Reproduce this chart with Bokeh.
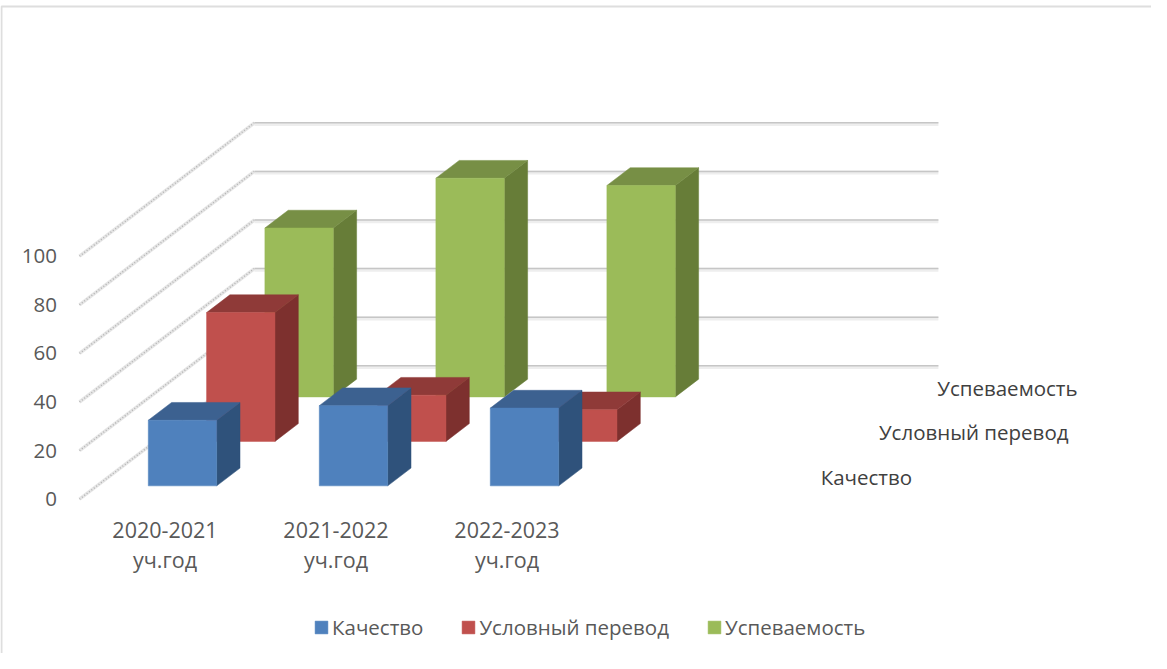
from bokeh.plotting import figure
from bokeh.embed import file_html
from bokeh.resources import INLINE
from bokeh.models import (Range1d, LinearAxis, FixedTicker, Legend, LegendItem)
from bokeh.core.properties import value

categories = ["2020-2021\nуч.год", "2021-2022\nуч.год", "2022-2023\nуч.год"]
series_names = ["Качество", "Условный перевод", "Успеваемость"]
kachestvo = [27, 33, 32]
uslovny = [53, 19, 13]
uspevaemost = [69.5, 90, 87]
series_values = [kachestvo, uslovny, uspevaemost]
value_ticks = [0, 20, 40, 60, 80, 100]
front_colors = ["#4f81bd", "#c0504d", "#9bbb59"]
top_colors = ["#3c6190", "#8f3a38", "#778f45"]
side_colors = ["#2f527b", "#7d302e", "#677d38"]

PX_SLOT = 171.0
PX_VAL = 2.43
DX = 58.3 / PX_SLOT
DY = 44.47 / PX_VAL
N_SLOTS = 4
N_DEPTH = 3
BAR_W = 0.4
BAR_D = 0.4
GAP = 0.3
FONT_PX = "20.5px"


def sx(px):
    return (px - 87) / PX_SLOT


def sy(py):
    return (506.7 - py) / PX_VAL


def proj(x, v, z):
    return x + z * DX, v + z * DY


p = figure(width=1151, height=653, output_backend="svg", toolbar_location=None,
           x_range=Range1d(sx(8), sx(1159)), y_range=Range1d(sy(661), sy(8)),
           min_border=0, min_border_left=0, min_border_right=0, min_border_top=0,
           min_border_bottom=0, x_axis_type=None, y_axis_type=None, outline_line_color=None)
p.xgrid.visible = False
p.ygrid.visible = False

# chart frame
p.line([sx(9), sx(9), sx(1162)], [sy(668), sy(14), sy(14)], line_color="#dedede", line_width=2)

# walls
for t in value_ticks:
    a = proj(0, t, 0)
    b = proj(0, t, N_DEPTH)
    c = proj(N_SLOTS, t, N_DEPTH)
    p.line([a[0], b[0]], [a[1], b[1]], line_color="#e6e6e6", line_width=3.5)
    p.line([a[0], b[0]], [a[1], b[1]], line_color="#b4b4b4", line_width=1.5, line_dash="1 2")
    p.line([b[0], c[0]], [b[1] - 0.5, c[1] - 0.5], line_color="#eeeeee", line_width=4)
    p.line([b[0], c[0]], [b[1], c[1]], line_color="#c6c6c6", line_width=1.5)

# bars, back to front
front_renderers = {}
for d in range(N_DEPTH - 1, -1, -1):
    vals = series_values[d]
    fronts_x, fronts_y, tops_x, tops_y, sides_x, sides_y = [], [], [], [], [], []
    for i, v in enumerate(vals):
        x0 = i + GAP
        x1 = x0 + BAR_W
        z0 = d + GAP
        z1 = z0 + BAR_D
        pts = [proj(x0, 0, z0), proj(x1, 0, z0), proj(x1, v, z0), proj(x0, v, z0)]
        fronts_x.append([q[0] for q in pts])
        fronts_y.append([q[1] for q in pts])
        pts = [proj(x0, v, z0), proj(x1, v, z0), proj(x1, v, z1), proj(x0, v, z1)]
        tops_x.append([q[0] for q in pts])
        tops_y.append([q[1] for q in pts])
        pts = [proj(x1, 0, z0), proj(x1, 0, z1), proj(x1, v, z1), proj(x1, v, z0)]
        sides_x.append([q[0] for q in pts])
        sides_y.append([q[1] for q in pts])
    p.patches(sides_x, sides_y, fill_color=side_colors[d], line_color=side_colors[d], line_width=0.5)
    p.patches(tops_x, tops_y, fill_color=top_colors[d], line_color=top_colors[d], line_width=0.5)
    front_renderers[d] = p.patches(fronts_x, fronts_y, fill_color=front_colors[d],
                                   line_color=front_colors[d], line_width=0.5)

# depth axis labels
for d, name in enumerate(series_names):
    q = proj(N_SLOTS, 0, d + 0.5)
    p.text([q[0]], [q[1]], text=[name], x_offset=28, text_align="left", text_baseline="middle",
           text_font=value("Open Sans"), text_font_size=FONT_PX, text_color="#404040")

# axes
yaxis = LinearAxis(fixed_location=sx(64.5), ticker=FixedTicker(ticks=value_ticks),
                   axis_line_color=None, major_tick_line_color=None, minor_tick_line_color=None,
                   major_tick_out=0, major_tick_in=0, major_label_standoff=0,
                   major_label_text_font="Open Sans", major_label_text_font_size=FONT_PX,
                   major_label_text_color="#595959")
p.add_layout(yaxis, "left")
ticks = [i + 0.5 for i in range(len(categories))]
xaxis = LinearAxis(fixed_location=sy(522), ticker=FixedTicker(ticks=ticks),
                   major_label_overrides=dict(zip(ticks, categories)),
                   axis_line_color=None, major_tick_line_color=None, minor_tick_line_color=None,
                   major_tick_out=0, major_tick_in=0, major_label_standoff=0,
                   major_label_text_font="Open Sans", major_label_text_font_size="21.5px",
                   major_label_text_color="#595959", major_label_text_line_height=1.05)
p.add_layout(xaxis, "below")

legend = Legend(items=[LegendItem(label=n, renderers=[front_renderers[d]]) for d, n in enumerate(series_names)],
                orientation="horizontal", location=(313, 653 - 641), padding=0, margin=0, spacing=37,
                label_standoff=3, glyph_width=16, glyph_height=16, border_line_color=None,
                background_fill_alpha=0, label_text_font="Open Sans", label_text_font_size=FONT_PX,
                label_text_color="#595959")
p.add_layout(legend, "center")

open("out.html", "w").write(file_html(p, INLINE))
